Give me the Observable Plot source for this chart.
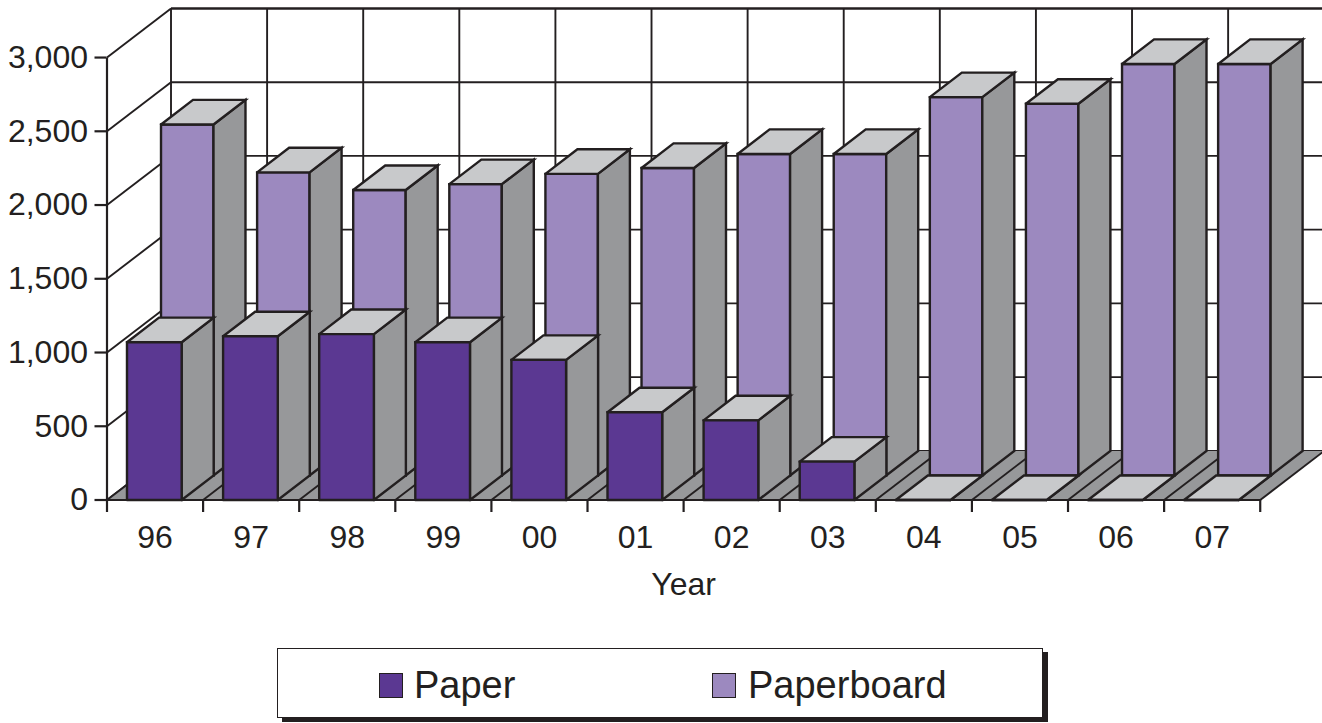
<!DOCTYPE html>
<html>
<head>
<meta charset="utf-8">
<script src="https://cdn.jsdelivr.net/npm/d3@7"></script>
<script src="https://cdn.jsdelivr.net/npm/@observablehq/plot@0.6"></script>
<style>
  html, body { margin: 0; padding: 0; background: #fff; overflow: hidden; }
  #page { position: relative; width: 1322px; height: 723px; font-family: "Liberation Sans", Arial, sans-serif; color: #231f20; }
  #page svg { display: block; position: absolute; left: 0; top: 0; }
  #legend { position: absolute; left: 277px; top: 648px; width: 766px; height: 70px; box-sizing: border-box;
            background: #fff; border: 1.5px solid #231f20; box-shadow: 5px 4px 0 #231f20; }
  .swatch { position: absolute; top: 24px; width: 24px; height: 25px; border: 1.5px solid #231f20; box-sizing: border-box; }
  .entry { position: absolute; top: 16px; font-size: 38px; line-height: 40px; }
</style>
</head>
<body>
<div id="page"></div>
<script>
const years = ["96", "97", "98", "99", "00", "01", "02", "03", "04", "05", "06", "07"];
const paper = [1070, 1110, 1125, 1070, 950, 595, 540, 260, 0, 0, 0, 0];
const paperboard = [2380, 2055, 1935, 1975, 2045, 2085, 2180, 2180, 2565, 2520, 2790, 2790];
const valueTicks = [0, 500, 1000, 1500, 2000, 2500, 3000];

const colors = { paper: "#5b3892", paperboard: "#9c89bf", top: "#c8c9cb", side: "#97989a", ink: "#231f20" };

// Oblique projection: depth 0 is the front of the floor, depth 1 the back wall.
const skewX = 0.666;   // category steps per unit of depth
const skewY = 333;     // value units per unit of depth
const at = (step, depth, value) => ({ x: step + depth * skewX, y: value + depth * skewY });

// Builds closed polygons for the three visible faces of each box.
function boxFaces(values, offset, barWidth, d0, d1) {
  const front = [], side = [], top = [];
  values.forEach((v, i) => {
    const a = i + offset, b = a + barWidth;
    const poly = (list, pts) => pts.forEach(p => list.push({ ...p, id: i }));
    poly(front, [at(a, d0, 0), at(b, d0, 0), at(b, d0, v), at(a, d0, v), at(a, d0, 0)]);
    poly(side, [at(b, d0, 0), at(b, d1, 0), at(b, d1, v), at(b, d0, v), at(b, d0, 0)]);
    poly(top, [at(a, d0, v), at(b, d0, v), at(b, d1, v), at(a, d1, v), at(a, d0, v)]);
  });
  return { front, side, top };
}

const face = (pts, fill) => Plot.line(pts, {
  x: "x", y: "y", z: "id", fill, stroke: colors.ink, strokeWidth: 2.4, strokeLinejoin: "miter", strokeMiterlimit: 8
});

const boardBoxes = boxFaces(paperboard, 0.229, 0.546, 0.5, 1);
const paperBoxes = boxFaces(paper, 0.208, 0.569, 0, 0.5);

const categorySteps = d3.range(0, 13);
const wallEnd = 14;  // the back wall runs past the right edge of the chart
const floor = [at(0, 0, 0), at(12, 0, 0), at(12, 1, 0), at(0, 1, 0), at(0, 0, 0)].map(p => ({ ...p, id: 0 }));

// Segment helper for the walls, floor and frame.
const seg = (rows, from, to, opts) => Plot.link(rows, {
  x1: d => from(d).x, y1: d => from(d).y, x2: d => to(d).x, y2: d => to(d).y,
  stroke: colors.ink, strokeWidth: 1.9, ...opts
});

const chart = Plot.plot({
  width: 1322,
  height: 640,
  marginLeft: 106.5,
  marginRight: 0,
  marginTop: 7.5,
  marginBottom: 140.5,
  style: { fontFamily: "Liberation Sans, Arial, sans-serif", color: colors.ink, background: "transparent", overflow: "hidden" },
  x: { type: "linear", domain: [0, 12.648] },
  y: { type: "linear", domain: [0, 3336] },
  marks: [
    // back wall and side wall
    seg(categorySteps, d => at(d, 1, 0), d => at(d, 1, 3000)),
    seg(valueTicks.slice(0, -1), d => at(0, 1, d), d => at(wallEnd, 1, d)),
    seg([3000], d => at(0, 1, d), d => at(wallEnd, 1, d), { strokeWidth: 2.6 }),
    seg(valueTicks, d => at(0, 0, d), d => at(0, 1, d)),
    seg([0], () => at(0, 0, 0), () => at(0, 0, 3000), { strokeWidth: 2.2 }),
    // floor
    Plot.line(floor, { x: "x", y: "y", z: "id", fill: colors.side, stroke: "none" }),
    seg(categorySteps, d => at(d, 0, 0), d => at(d, 1, 0)),
    seg([0], () => at(0, 0, 0), () => at(12, 0, 0), { strokeWidth: 2.2 }),
    // rear row, then front row
    face(boardBoxes.front, colors.paperboard),
    face(boardBoxes.side, colors.side),
    face(boardBoxes.top, colors.top),
    face(paperBoxes.side, colors.side),
    face(paperBoxes.top, colors.top),
    face(paperBoxes.front, colors.paper),
    // axes
    Plot.axisY({
      ticks: valueTicks, tickSize: 12, tickPadding: 7, fontSize: 32, strokeWidth: 2.2,
      tickFormat: d3.format(","), label: null, stroke: colors.ink
    }),
    Plot.axisX({ ticks: categorySteps, tickSize: 12.5, tickFormat: () => "", label: null, strokeWidth: 2.2, stroke: colors.ink }),
    Plot.text(years, {
      x: (d, i) => i + 0.5, y: 0, text: d => d, dy: 38, fontSize: 32, fill: colors.ink
    }),
    Plot.text(["Year"], { x: [6], y: [0], text: d => d, dy: 85, fontSize: 32, fill: colors.ink })
  ]
});

const page = document.getElementById("page");
page.append(chart);

// Legend box beneath the chart.
const legend = document.createElement("div");
legend.id = "legend";
legend.innerHTML = `
  <div class="swatch" style="left:101px;background:${colors.paper}"></div>
  <div class="entry" style="left:136px">Paper</div>
  <div class="swatch" style="left:434px;background:${colors.paperboard}"></div>
  <div class="entry" style="left:470px">Paperboard</div>`;
page.append(legend);
</script>
</body>
</html>
